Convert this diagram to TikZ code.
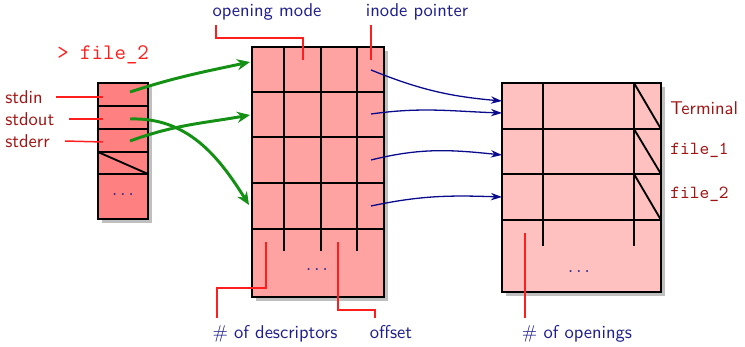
\documentclass[tikz,border=0pt]{standalone}
\usepackage{tikz}
\usetikzlibrary{arrows.meta}
\definecolor{labelblue}{RGB}{30,30,140}
\definecolor{labelred}{RGB}{160,20,20}
\definecolor{leadred}{RGB}{255,30,30}
\definecolor{fdfill}{RGB}{255,128,128}
\definecolor{ofill}{RGB}{255,162,162}
\definecolor{ifill}{RGB}{255,192,192}
\definecolor{arrowgreen}{RGB}{20,145,20}
\definecolor{arrowblue}{RGB}{10,10,140}
\tikzset{tableline/.style = {draw, line width = 1pt}}
\tikzset{dropshade/.style = {fill = black!25}}
\tikzset{leader/.style = {draw = leadred, line width = 0.8pt}}
\tikzset{bluelabel/.style = {text = labelblue, font = \sffamily, anchor = base}}
\tikzset{fdlabel/.style = {text = labelred, font = \sffamily, anchor = west, inner sep = 0pt}}
\tikzset{filelabel/.style = {text = labelred, font = \ttfamily, anchor = west, inner sep = 0pt}}
\tikzset{fdlink/.style = {-{Stealth[length = 7pt, width = 6pt]}, line width = 1.6pt, draw = arrowgreen}}
\tikzset{ilink/.style = {-{Stealth[length = 6pt, width = 4pt]}, line width = 0.7pt, draw = arrowblue}}

\begin{document}
\begin{tikzpicture}[x = 0.54pt, y = 0.54pt]
			\useasboundingbox (0, 0) rectangle (745, 346);

			% descriptor table
			\fill[dropshade] (102, 123) rectangle (152, 259);
			\filldraw[tableline, fill = fdfill] (98, 127) rectangle (148, 263);
			\draw[tableline] (98, 240) -- (148, 240);
			\draw[tableline] (98, 217) -- (148, 217);
			\draw[tableline] (98, 194) -- (148, 194);
			\draw[tableline] (98, 172) -- (148, 172);
			\draw[tableline] (98, 194) -- (148, 172);
			\node[text = labelblue] (fddots) at (123, 151) {$\dots$};

			% open file table
			\fill[dropshade] (256, 45) rectangle (388, 295);
			\filldraw[tableline, fill = ofill] (252, 49) rectangle (384, 299);
			\draw[tableline] (252, 254) -- (384, 254);
			\draw[tableline] (252, 209) -- (384, 209);
			\draw[tableline] (252, 163) -- (384, 163);
			\draw[tableline] (252, 117) -- (384, 117);
			\draw[tableline] (284, 299) -- (284, 95);
			\draw[tableline] (321, 299) -- (321, 95);
			\draw[tableline] (357, 299) -- (357, 95);
			\node[text = labelblue] (odots) at (317, 76) {$\dots$};

			% inode table
			\fill[dropshade] (506, 50) rectangle (665, 259);
			\filldraw[tableline, fill = ifill] (502, 54) rectangle (661, 263);
			\draw[tableline] (502, 217) -- (661, 217);
			\draw[tableline] (502, 172) -- (661, 172);
			\draw[tableline] (502, 126) -- (661, 126);
			\draw[tableline] (543, 263) -- (543, 100);
			\draw[tableline] (634, 263) -- (634, 100);
			\draw[tableline] (634, 263) -- (661, 217);
			\draw[tableline] (634, 217) -- (661, 172);
			\draw[tableline] (634, 172) -- (661, 126);
			\node[text = labelblue] (idots) at (579, 74) {$\dots$};

			% entries
			\coordinate (fd0) at (130, 254);
			\coordinate (fd1) at (130, 227);
			\coordinate (fd2) at (130, 205);
			\coordinate (fd0cell) at (103, 249);
			\coordinate (fd1cell) at (103, 227);
			\coordinate (fd2cell) at (103, 204);
			\coordinate (o1) at (250, 284);
			\coordinate (o2) at (250, 231);
			\coordinate (o4) at (249, 141);
			\coordinate (p1) at (371, 276);
			\coordinate (p2) at (371, 232);
			\coordinate (p3) at (371, 186);
			\coordinate (p4) at (371, 140);
			\coordinate (i1a) at (502, 245);
			\coordinate (i1b) at (502, 233);
			\coordinate (i2) at (502, 191);
			\coordinate (i3) at (502, 149);
			\coordinate (modept) at (303, 286);
			\coordinate (inodept) at (371, 286);
			\coordinate (countpt) at (266, 104);
			\coordinate (offsetpt) at (338, 104);
			\coordinate (openpt) at (525, 113);

			% labels
			\node[fdlabel] (stdin) at (5, 249) {stdin};
			\node[fdlabel] (stdout) at (5, 227) {stdout};
			\node[fdlabel] (stderr) at (5, 205) {stderr};
			\node[text = leadred, font = \large\ttfamily, anchor = west, inner sep = 0pt] (redir) at (57, 291) {> file\_2};
			\node[fdlabel] (term) at (670, 238) {Terminal};
			\node[filelabel] (file1) at (670, 196) {file\_1};
			\node[filelabel] (file2) at (670, 152) {file\_2};
			\node[bluelabel] (mode) at (267, 329) {opening mode};
			\node[bluelabel] (inode) at (417, 329) {inode pointer};
			\node[bluelabel] (count) at (275, 8) {$\#$ of descriptors};
			\node[bluelabel] (offset) at (391, 8) {offset};
			\node[bluelabel] (opens) at (577, 8) {$\#$ of openings};

			\draw[leader] ([xshift = 7pt]stdin.east) -- (fd0cell);
			\draw[leader] ([xshift = 8pt]stdout.east) -- (fd1cell);
			\draw[leader] ([xshift = 8pt]stderr.east) -- (fd2cell);
			\draw[leader] (216, 321) -- ++(0, -13) -| (modept);
			\draw[leader] (371, 321) -- (inodept);
			\draw[leader] (countpt) -- ++(0, -46) -| (217, 28);
			\draw[leader] (offsetpt) -- ++(0, -68) -| (375, 28);
			\draw[leader] (openpt) -- (525, 28);

			\draw[fdlink] (fd0) to[out = 18, in = 192] (o1);
			\draw[fdlink] (fd1) to[out = 2, in = 122] (o4);
			\draw[fdlink] (fd2) to[out = 20, in = 190] (o2);

			\draw[ilink] (p1) to[out = -22, in = 175] (i1a);
			\draw[ilink] (p2) to[out = 8, in = 178] (i1b);
			\draw[ilink] (p3) to[out = 14, in = 174] (i2);
			\draw[ilink] (p4) to[out = 12, in = 178] (i3);
		\end{tikzpicture}
\end{document}
